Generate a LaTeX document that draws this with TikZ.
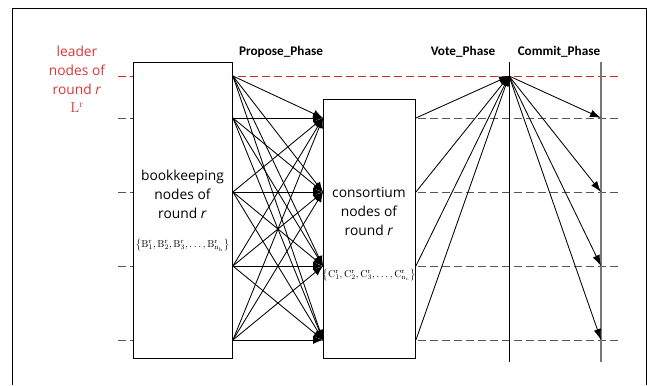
\documentclass[tikz,border=0pt]{standalone}
\usepackage[no-math]{fontspec}
\setmainfont{Open Sans}
\newfontfamily\phasefont{Carlito}
\usetikzlibrary{arrows.meta}
\definecolor{leadred}{RGB}{215,55,55}
\definecolor{dashred}{RGB}{200,40,40}
\definecolor{dashgray}{RGB}{85,85,85}
\definecolor{linegray}{RGB}{120,120,120}
\begin{document}
\begin{tikzpicture}[x=1pt,y=-1pt,
  box/.style={draw=black,fill=white,line width=0.9pt,inner sep=0pt,anchor=north west},
  dline/.style={draw=dashgray,dash pattern=on 8pt off 4pt,line width=0.9pt},
  rline/.style={draw=dashred,dash pattern=on 8pt off 4pt,line width=0.9pt},
  parrow/.style={draw=black,line width=0.85pt,-{Latex[length=10pt,width=8pt]}},
  varrow/.style={draw=black,line width=0.85pt,-{Latex[length=10pt,width=8pt]}},
  carrow/.style={draw=black,line width=0.85pt,-{Latex[length=11pt,width=7.5pt]}},
  boxtext/.style={align=center,font=\fontsize{13.8}{19}\selectfont,inner sep=0pt},
  mathtext/.style={font=\fontsize{9.8}{12}\selectfont,inner sep=0pt},
  phase/.style={font=\phasefont\bfseries\fontsize{13.2}{14}\selectfont,inner sep=0pt}
]
\useasboundingbox (0,0) rectangle (647,385);
\draw[line width=0.9pt] (12,385) -- (12,8) -- (646,8) -- (646,385);
% dashed level lines
\draw[rline] (118,76) -- (620,76);
\foreach \yy in {118,192,266,340} \draw[dline] (118,\yy) -- (620,\yy);
% vertical phase lines
\coordinate (vtop) at (509,62);
\coordinate (vbot) at (509,362);
\coordinate (mtop) at (601,62);
\coordinate (mbot) at (601,362);
\draw[line width=0.8pt] (vtop) -- (vbot);
\draw[draw=linegray,line width=1.6pt] (mtop) -- (mbot);
% boxes
\node[box,minimum width=99pt,minimum height=296pt] (bk) at (133,62) {};
\node[box,minimum width=92pt,minimum height=259pt] (cs) at (323,99) {};
% anchor points
\foreach \i/\yy in {0/76,1/118,2/192,3/266,4/340} \coordinate (b\i) at (bk.east |- 0,\yy);
\foreach \j/\yy in {1/118,2/192,3/266,4/340} {
  \coordinate (c\j) at (cs.west |- 0,\yy);
  \coordinate (d\j) at (cs.east |- 0,\yy);
  \coordinate (m\j) at (mtop |- 0,\yy);
}
\coordinate (v) at (vtop |- 0,76);
% propose arrows
\foreach \i in {0,...,4} \foreach \j in {1,...,4} \draw[parrow] (b\i) -- (c\j);
% vote arrows
\foreach \j in {1,...,4} \draw[varrow] (d\j) -- (v);
% commit arrows
\foreach \j in {1,...,4} \draw[carrow] (v) -- (m\j);
% texts
\node[boxtext,text=leadred] (lead) at (77,79) {leader\\nodes of\\round \emph{r}\\[-1pt]$\mathrm{L}^{\mathrm{r}}$};
\node[phase] (pp) at (281,52) {Propose\_Phase};
\node[phase] (vp) at (463,52) {Vote\_Phase};
\node[phase] (cp) at (559,52) {Commit\_Phase};
\node[boxtext] (bkt) at (182.5,194) {bookkeeping\\nodes of\\round \emph{r}};
\node[mathtext] (bkm) at (182.5,245) {$\bigl\{\mathrm{B}_1^{\mathrm{r}},\mathrm{B}_2^{\mathrm{r}},\mathrm{B}_3^{\mathrm{r}},\ldots,\mathrm{B}_{\mathrm{n_b}}^{\mathrm{r}}\bigr\}$};
\node[boxtext] (cst) at (369,212) {consortium\\nodes of\\round \emph{r}};
\node[mathtext] (csm) at (369,275) {$\bigl\{\mathrm{C}_1^{\mathrm{r}},\mathrm{C}_2^{\mathrm{r}},\mathrm{C}_3^{\mathrm{r}},\ldots,\mathrm{C}_{\mathrm{n_c}}^{\mathrm{r}}\bigr\}$};
\end{tikzpicture}
\end{document}
